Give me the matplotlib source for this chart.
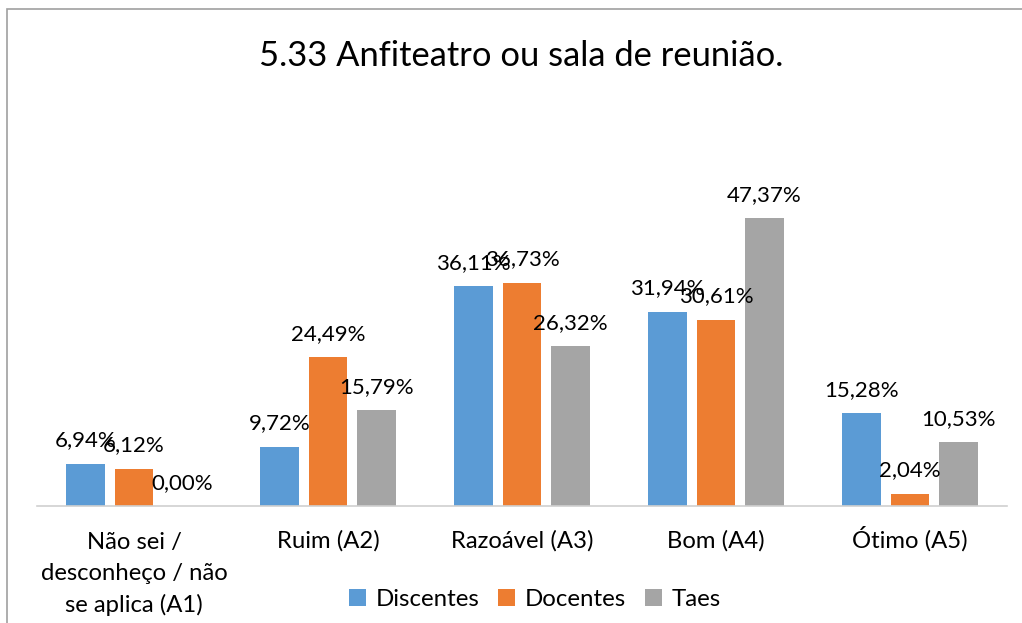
import matplotlib
matplotlib.use('Agg')
import matplotlib.pyplot as plt
from matplotlib.patches import Rectangle
import numpy as np

categories = ['Não sei /\ndesconheço / não\nse aplica (A1)', 'Ruim (A2)',
              'Razoável (A3)', 'Bom (A4)', 'Ótimo (A5)']
series = ['Discentes', 'Docentes', 'Taes']
discentes = [6.94, 9.72, 36.11, 31.94, 15.28]
docentes = [6.12, 24.49, 36.73, 30.61, 2.04]
taes = [0.00, 15.79, 26.32, 47.37, 10.53]
colors = ['#5B9BD5', '#ED7D31', '#A5A5A5']

plt.rcParams['font.family'] = ['Lato', 'DejaVu Sans']

W, H = 1022, 623
fig = plt.figure(figsize=(W / 100, H / 100), dpi=100)

# chart frame (top and left edges show)
fig.patches.append(Rectangle((7 / W, -0.1), 1.2, (H - 9) / H + 0.1,
                             transform=fig.transFigure, fill=False,
                             edgecolor='#A0A0A0', linewidth=1.2))

ax_left, ax_right, ax_base = 37, 1007, 506
ymax = 55
ax_h = ymax * 6.08
ax = fig.add_axes([ax_left / W, (H - ax_base) / H,
                   (ax_right - ax_left) / W, ax_h / H])

x = np.arange(len(categories))
width = 0.2
for i, (name, vals) in enumerate(zip(series, [discentes, docentes, taes])):
    pos = x + (i - 1) * 0.25
    ax.bar(pos, vals, width, color=colors[i], label=name)
    for p, v in zip(pos, vals):
        ax.annotate(f'{v:.2f}%'.replace('.', ','), (p, v),
                    xytext=(0, 12.5), textcoords='offset points',
                    ha='center', va='baseline', fontsize=16, color='#000000')

ax.set_xlim(-0.5, len(categories) - 0.5)
ax.set_ylim(0, ymax)
for s in ['top', 'right', 'left']:
    ax.spines[s].set_visible(False)
ax.spines['bottom'].set_color('#D0D0D0')
ax.spines['bottom'].set_linewidth(1.2)
ax.set_yticks([])
ax.set_xticks([])
ax.patch.set_alpha(0)

# category labels: first baseline 42 px under the axis, 32 px per extra line
# (multi-line 'baseline' alignment anchors the last line)
first_base, line_step = 42 * 0.72, 32 * 0.72
for xi, cat in zip(x, categories):
    nlines = cat.count('\n') + 1
    ax.annotate(cat, (xi, 0), xytext=(0, -(first_base + (nlines - 1) * line_step)),
                textcoords='offset points', ha='center', va='baseline',
                fontsize=17.2, linespacing=1.57, multialignment='center',
                annotation_clip=False)

fig.text(521 / W, 1 - 56 / H, '5.33 Anfiteatro ou sala de reunião.',
         ha='center', va='center', fontsize=24.8)

fig.legend(loc='center', bbox_to_anchor=(535 / W, 1 - 599 / H), ncol=3,
           frameon=False, fontsize=17.3, handlelength=0.7, handleheight=0.7,
           handletextpad=0.4, columnspacing=0.8)

fig.savefig('out.png', dpi=100)
